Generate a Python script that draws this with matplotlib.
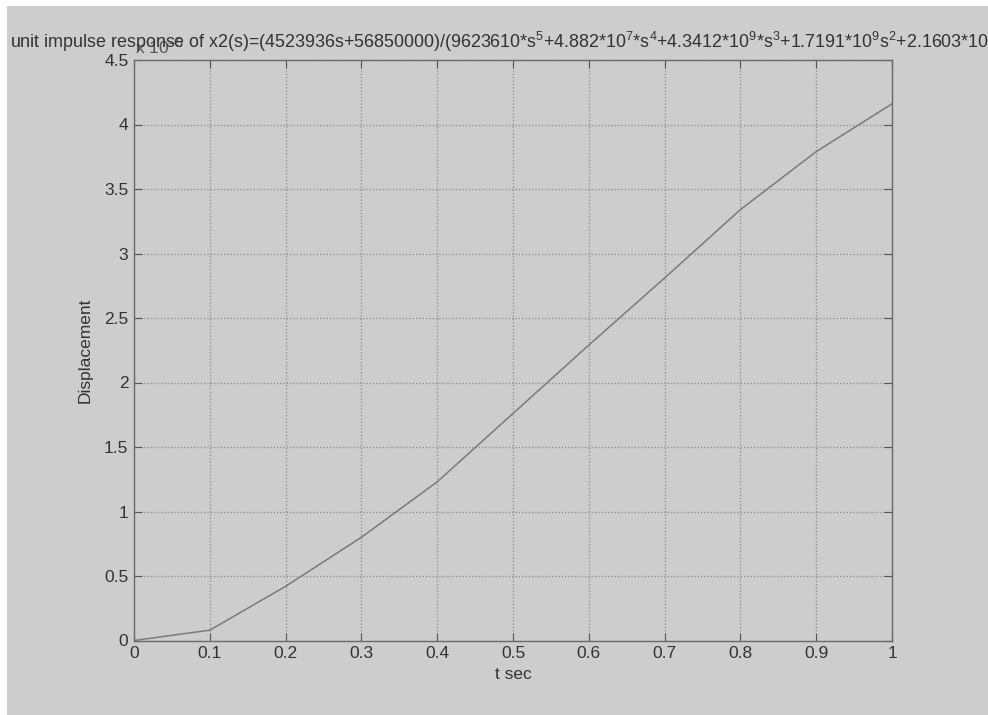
import matplotlib.pyplot as plt
from matplotlib.patches import Rectangle

t = [0.0, 0.1, 0.2, 0.3, 0.4, 0.5, 0.6, 0.7, 0.8, 0.9, 1.0]
disp = [0.0, 0.08, 0.42, 0.80, 1.23, 1.76, 2.29, 2.81, 3.34, 3.79, 4.16]
xticks = [0, 0.1, 0.2, 0.3, 0.4, 0.5, 0.6, 0.7, 0.8, 0.9, 1]
yticks = [0, 0.5, 1, 1.5, 2, 2.5, 3, 3.5, 4, 4.5]

title = ("unit impulse response of x2(s)=(4523936s+56850000)/(9623610*s$^5$+4.882*10$^7$*s$^4$"
         "+4.3412*10$^9$*s$^3$+1.7191*10$^9$s$^2$+2.1603*10$^{10}$*s+1.0251*10$^{11}$)")

plt.rcParams['font.family'] = ['Liberation Sans', 'DejaVu Sans']
plt.rcParams['mathtext.fontset'] = 'custom'
plt.rcParams['mathtext.rm'] = 'Liberation Sans'
plt.rcParams['mathtext.it'] = 'Liberation Sans'

bg = '#cdcdcd'
W, H = 988, 715
fig = plt.figure(figsize=(9.88, 7.15), dpi=100, facecolor=bg)
# white strips on top and left edge, as in the screenshot
fig.patches.append(Rectangle((0, 1 - 6 / H), 1, 6 / H, transform=fig.transFigure,
                             facecolor='white', edgecolor='none', zorder=0))
fig.patches.append(Rectangle((0, 0), 7 / W, 1, transform=fig.transFigure,
                             facecolor='white', edgecolor='none', zorder=0))

ax = fig.add_axes([134 / W, 1 - 640.5 / H, 758 / W, 580.5 / H], facecolor=bg)

ax.plot(t, disp, color='#7a7a7a', lw=1.1)
ax.set_xlim(0, 1)
ax.set_ylim(0, 4.5)
ax.set_xticks(xticks)
ax.set_xticklabels(['0', '0.1', '0.2', '0.3', '0.4', '0.5', '0.6', '0.7', '0.8', '0.9', '1'])
ax.set_yticks(yticks)
ax.set_yticklabels(['0', '0.5', '1', '1.5', '2', '2.5', '3', '3.5', '4', '4.5'])
ax.tick_params(direction='in', length=6, color='#555555', labelsize=12.5,
               labelcolor='#333333', top=True, right=True, pad=4)
ax.grid(True, linestyle=':', color='#8a8a8a', lw=0.9)
for s in ax.spines.values():
    s.set_color('#6a6a6a')
    s.set_linewidth(1.0)

ax.set_xlabel('t sec', fontsize=12.5, color='#333333', labelpad=4)
ax.set_ylabel('Displacement', fontsize=12.5, color='#333333', labelpad=8)

fig.text(135 / W, 1 - 53 / H, 'x 10$^{-5}$', fontsize=12.5, color='#555555', va='baseline')
fig.text(10 / W, 1 - 48 / H, title, fontsize=12.9, color='#333333', va='baseline')

fig.savefig('out.png', dpi=100, facecolor=bg)
